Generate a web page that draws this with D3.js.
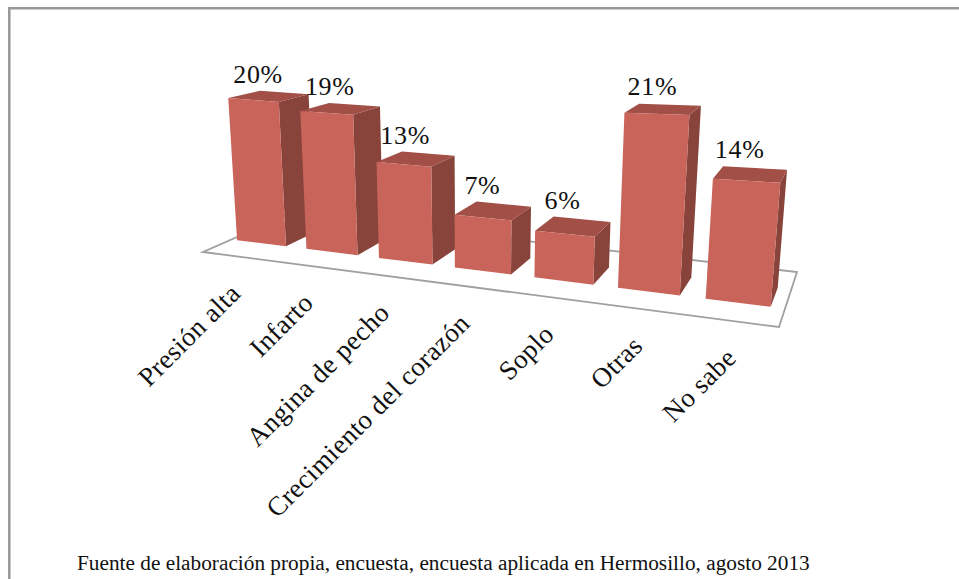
<!DOCTYPE html>
<html>
<head>
<meta charset="utf-8">
<script src="https://cdn.jsdelivr.net/npm/d3@7"></script>
<style>
  html, body { margin: 0; background: #fff; }
  svg { display: block; }
</style>
</head>
<body>
<script>
const categories = ['Presión alta', 'Infarto', 'Angina de pecho', 'Crecimiento del corazón', 'Soplo', 'Otras', 'No sabe'];
const percentages = [20, 19, 13, 7, 6, 21, 14];
const footnote = 'Fuente de elaboración propia, encuesta, encuesta aplicada en Hermosillo, agosto 2013';

const width = 959, height = 579;

// Consts for the camera: floor corners on screen and where the verticals converge
const floorFrontLeft = [203, 252],
    floorFrontRight = [779, 327],
    floorBackRight = [797, 272],
    floorBackLeft = [289.6, 213.9],
    verticalVanish = [477, 4100],
    liftAtMax = 0.0388,
    liftGain = 0.09;

const svg = d3.select('body').append('svg')
    .attr('width', width)
    .attr('height', height);

// Frame around the figure
svg.append('path')
    .attr('d', 'M9.3,' + height + 'V8.3H' + width)
    .attr('fill', 'none')
    .attr('stroke', '#989898')
    .attr('stroke-width', 2.5);

// World axes: u runs along the categories, v goes back into the floor
const u = d3.scaleBand()
    .domain(categories)
    .range([0.012, 0.978])
    .paddingInner(0.29)
    .paddingOuter(0);

const barDepth = [0.3, 0.65];

const h = d3.scaleLinear()
    .domain([0, 21])
    .range([0, liftAtMax]);

// Unit square -> floor quad homography, then lift away from the vertical vanishing point
const H = squareToQuad(floorFrontLeft, floorFrontRight, floorBackRight, floorBackLeft);

function project(uu, v, value) {
    const x = H[0] * uu + H[1] * v + H[2],
        y = H[3] * uu + H[4] * v + H[5],
        w = H[6] * uu + H[7] * v + 1,
        k = h(value) * (1 + liftGain * uu * uu);
    return [(x - k * verticalVanish[0]) / (w - k), (y - k * verticalVanish[1]) / (w - k)];
}

function squareToQuad(p0, p1, p2, p3) {
    const dx1 = p1[0] - p2[0], dx2 = p3[0] - p2[0], sx = p0[0] - p1[0] + p2[0] - p3[0],
        dy1 = p1[1] - p2[1], dy2 = p3[1] - p2[1], sy = p0[1] - p1[1] + p2[1] - p3[1],
        det = dx1 * dy2 - dx2 * dy1,
        g = (sx * dy2 - dx2 * sy) / det,
        i = (dx1 * sy - sx * dy1) / det;
    return [p1[0] - p0[0] + g * p1[0], p3[0] - p0[0] + i * p3[0], p0[0],
        p1[1] - p0[1] + g * p1[1], p3[1] - p0[1] + i * p3[1], p0[1], g, i];
}

const line = d3.line();

// Floor
svg.append('path')
    .attr('d', line([project(0, 0, 0), project(1, 0, 0), project(1, 1, 0), project(0, 1, 0)]) + 'Z')
    .attr('fill', '#fff')
    .attr('stroke', '#a0a0a0')
    .attr('stroke-width', 1.8);

const data = categories.map((c, i) => ({ category: c, value: percentages[i] }));

function corners(d) {
    const x0 = u(d.category), x1 = x0 + u.bandwidth(),
        z0 = barDepth[0], z1 = barDepth[1];
    return {
        front: [project(x0, z0, 0), project(x1, z0, 0), project(x1, z0, d.value), project(x0, z0, d.value)],
        side: [project(x1, z0, 0), project(x1, z1, 0), project(x1, z1, d.value), project(x1, z0, d.value)],
        top: [project(x0, z0, d.value), project(x1, z0, d.value), project(x1, z1, d.value), project(x0, z1, d.value)]
    };
}

const bars = svg.selectAll('g.bar')
    .data(data).enter()
    .append('g')
    .attr('class', 'bar');

bars.append('path').attr('d', d => line(corners(d).side) + 'Z').attr('fill', '#88433b');
bars.append('path').attr('d', d => line(corners(d).top) + 'Z').attr('fill', '#a14f47');
bars.append('path').attr('d', d => line(corners(d).front) + 'Z').attr('fill', '#c8645a');

// Value labels float over the back of each bar top
svg.selectAll('text.value')
    .data(data).enter()
    .append('text')
    .attr('class', 'value')
    .attr('text-anchor', 'middle')
    .attr('font-family', '"Liberation Serif", serif')
    .attr('font-size', 26)
    .attr('letter-spacing', 0.7)
    .attr('fill', '#111')
    .attr('x', d => project(u(d.category) + u.bandwidth() / 2, (barDepth[0] + barDepth[1]) / 2, d.value)[0] - 11)
    .attr('y', d => project(u(d.category) + u.bandwidth() / 2, barDepth[1], d.value)[1] - 10)
    .text(d => d.value + '%');

// Category labels hang off the front edge of the floor
svg.selectAll('text.category')
    .data(data).enter()
    .append('text')
    .attr('class', 'category')
    .attr('text-anchor', 'end')
    .attr('font-family', '"Liberation Serif", serif')
    .attr('font-size', 27)
    .attr('letter-spacing', 0.4)
    .attr('fill', '#111')
    .attr('transform', d => {
        const p = project(u(d.category) + u.bandwidth() / 2, 0, 0);
        return 'translate(' + (p[0] + 8) + ',' + (p[1] + 39) + ') rotate(-45)';
    })
    .text(d => d.category);

svg.append('text')
    .attr('x', 77)
    .attr('y', 570)
    .attr('font-family', '"Liberation Serif", serif')
    .attr('font-size', 21.3)
    .attr('fill', '#111')
    .text(footnote);
</script>
</body>
</html>
